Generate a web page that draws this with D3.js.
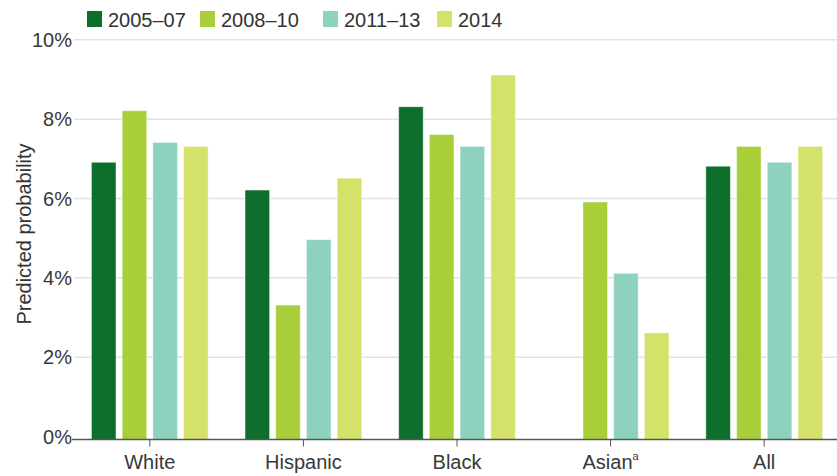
<!DOCTYPE html>
<html>
<head>
<meta charset="utf-8">
<script src="https://cdn.jsdelivr.net/npm/d3@7/dist/d3.min.js"></script>
<style>
  html, body { margin: 0; padding: 0; background: #fff; }
  svg text { font-family: "Liberation Sans", Arial, sans-serif; fill: #333; }
</style>
</head>
<body>
<svg id="chart" width="837" height="476"></svg>
<script>
// Groups along the x axis
const groups = ["White", "Hispanic", "Black", "Asian", "All"];
// Period series
const periods = ["2005–07", "2008–10", "2011–13", "2014"];
const colors = ["#0e6e2b", "#a8cf3a", "#8ed1bf", "#d4e26a"];
// Predicted probability (%) per group, one array per period
const v2005_07 = [6.9, 6.2, 8.3, null, 6.8];
const v2008_10 = [8.2, 3.3, 7.6, 5.9, 7.3];
const v2011_13 = [7.4, 4.95, 7.3, 4.1, 6.9];
const v2014    = [7.3, 6.5, 9.1, 2.6, 7.3];
const seriesValues = [v2005_07, v2008_10, v2011_13, v2014];
const yTicks = [0, 2, 4, 6, 8, 10];

const svg = d3.select("#chart");
const baseY = 439.5;

const x = d3.scaleBand().domain(groups).range([73, 841]);
const xInner = d3.scaleBand().domain(periods).range([0, x.bandwidth()])
  .paddingInner(0.2).paddingOuter(0.6);
const y = d3.scaleLinear().domain([0, 10]).range([436, 39.3]);

// Gridlines and y tick labels
const yAxis = d3.axisLeft(y).tickValues(yTicks)
  .tickFormat(d => d + "%").tickSize(0).tickPadding(0);
const gy = svg.append("g").attr("transform", "translate(73,0)").call(yAxis);
gy.select(".domain").remove();
gy.selectAll(".tick text")
  .attr("x", -1).attr("dy", "0.36em")
  .style("font-size", "20px").style("fill", "#383838")
  .style("font-family", "'Liberation Sans', Arial, sans-serif");
gy.selectAll(".tick")
  .filter(d => d !== 0)
  .append("line")
  .attr("x1", 1).attr("x2", 837 - 73)
  .attr("stroke", "#e2e2e2").attr("stroke-width", 1.5);

// Bars
const rows = [];
groups.forEach((g, gi) => {
  periods.forEach((p, pi) => {
    const v = seriesValues[pi][gi];
    if (v != null) rows.push({ g, p, pi, v });
  });
});
svg.append("g").selectAll("rect").data(rows).join("rect")
  .attr("x", d => x(d.g) + xInner(d.p))
  .attr("width", xInner.bandwidth())
  .attr("y", d => y(d.v))
  .attr("height", d => baseY - y(d.v))
  .attr("fill", d => colors[d.pi])
  .attr("stroke", "rgba(255,255,255,0.45)")
  .attr("stroke-width", 1);

// X axis with ticks at group centres
const xAxis = d3.axisBottom(x).tickSize(7).tickPadding(8).tickSizeOuter(0);
const gx = svg.append("g").attr("transform", `translate(0,${baseY})`).call(xAxis);
gx.select(".domain").attr("d", "M72,0H837").attr("stroke", "#555").attr("stroke-width", 1.5);
gx.selectAll(".tick line").attr("stroke", "#555").attr("stroke-width", 1);
gx.selectAll(".tick text")
  .style("font-size", "20px").style("fill", "#383838")
  .style("font-family", "'Liberation Sans', Arial, sans-serif")
  .attr("dy", "0.71em")
  .each(function (d) {
    if (d === "Asian") {
      const t = d3.select(this).text("");
      t.append("tspan").text("Asian");
      t.append("tspan").text("a").style("font-size", "11px").attr("dy", "-0.8em");
    }
  });

// Y axis title
svg.append("text")
  .attr("transform", "translate(31,234) rotate(-90)")
  .attr("text-anchor", "middle")
  .style("font-size", "20px")
  .text("Predicted probability");

// Legend
const legendX = [87, 200, 323, 437];
const legend = svg.append("g").selectAll("g").data(periods).join("g")
  .attr("transform", (d, i) => `translate(${legendX[i]},0)`);
legend.append("rect")
  .attr("x", 0).attr("y", 11).attr("width", 15).attr("height", 16)
  .attr("fill", (d, i) => colors[i]);
legend.append("text")
  .attr("x", 21).attr("y", 27)
  .style("font-size", "20px")
  .text(d => d);
</script>
</body>
</html>
